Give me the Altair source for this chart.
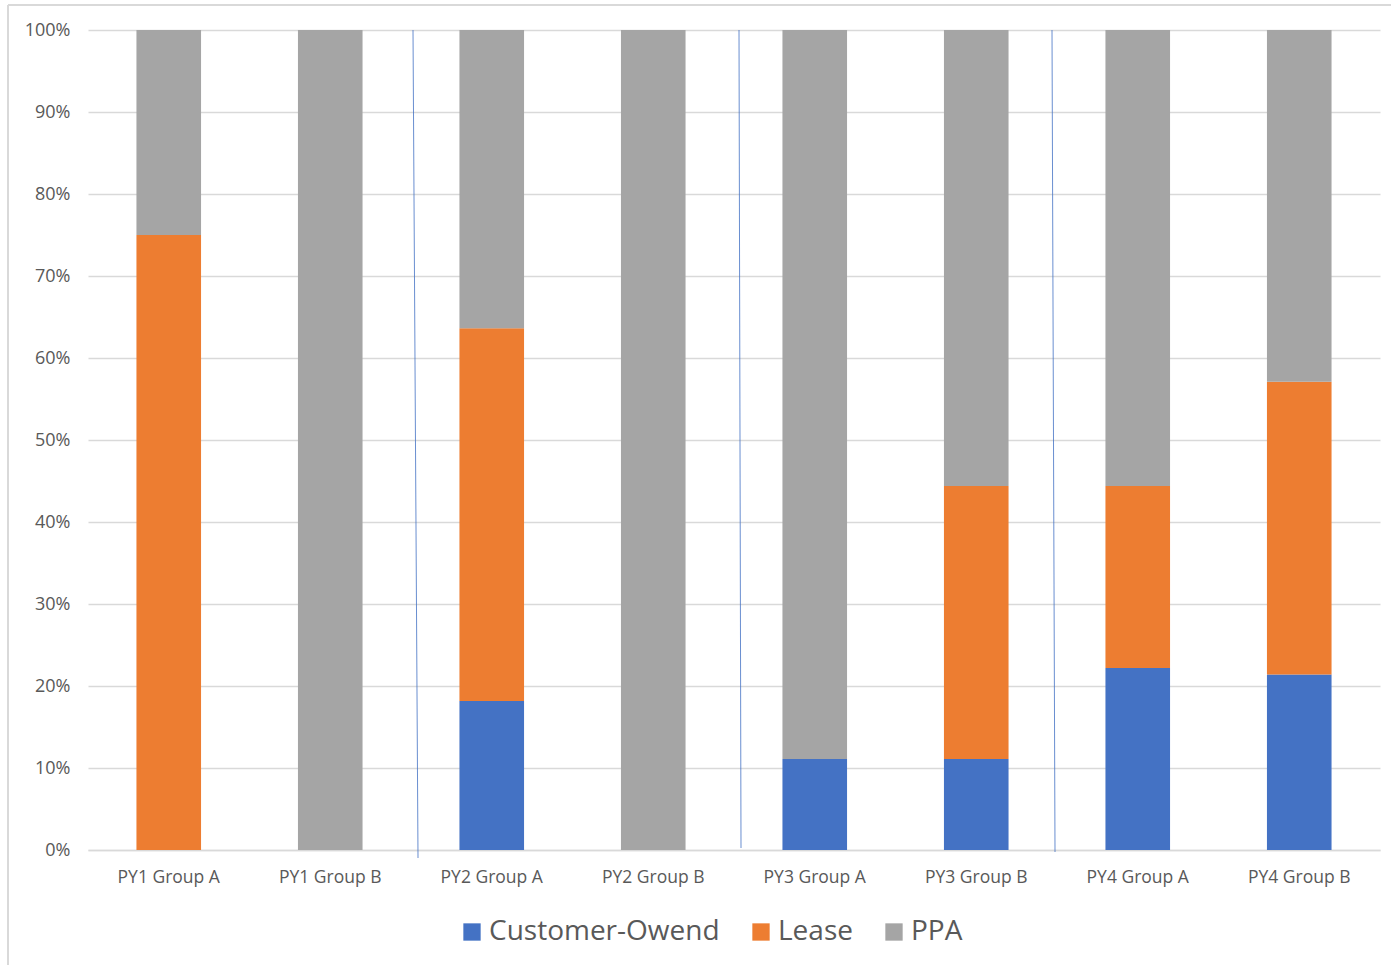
import altair as alt
import pandas as pd

categories = ["PY1 Group A", "PY1 Group B", "PY2 Group A", "PY2 Group B",
              "PY3 Group A", "PY3 Group B", "PY4 Group A", "PY4 Group B"]
series = ["Customer-Owend", "Lease", "PPA"]
customer_owned = [0.0, 0.0, 18.2, 0.0, 11.1, 11.1, 22.2, 21.4]
lease = [75.0, 0.0, 45.5, 0.0, 0.0, 33.3, 22.2, 35.7]
ppa = [25.0, 100.0, 36.4, 100.0, 88.9, 55.6, 55.6, 42.9]
colors = ["#4472C4", "#ED7D31", "#A5A5A5"]

rows = []
for i, c in enumerate(categories):
    for j, (s, vals) in enumerate(zip(series, [customer_owned, lease, ppa])):
        rows.append({"category": c, "series": s, "value": vals[i], "order": j})
df = pd.DataFrame(rows)

FONT = "Open Sans"
W, H = 1292, 820

bars = alt.Chart(df).mark_bar().encode(
    x=alt.X("category:N", sort=categories,
            scale=alt.Scale(paddingInner=0.6, paddingOuter=0.3),
            axis=alt.Axis(title=None, labelAngle=0, ticks=False, domain=True,
                          domainColor="#d9d9d9", domainWidth=1.5,
                          labelFont=FONT, labelFontSize=17.5, labelColor="#595959",
                          labelPadding=18)),
    y=alt.Y("value:Q", stack="normalize",
            scale=alt.Scale(domain=[0, 1]),
            axis=alt.Axis(title=None, format=".0%", values=[i / 10 for i in range(11)],
                          ticks=False, domain=False, gridColor="#d9d9d9", gridWidth=1.5,
                          labelFont=FONT, labelFontSize=18, labelColor="#595959",
                          labelPadding=18)),
    color=alt.Color("series:N", sort=series,
                    scale=alt.Scale(domain=series, range=colors),
                    legend=alt.Legend(title=None, orient="none", direction="horizontal",
                                      legendX=370, legendY=888,
                                      symbolType="square", symbolSize=300,
                                      symbolStrokeWidth=0, labelLimit=0,
                                      labelFont=FONT, labelFontSize=28,
                                      labelColor="#595959", columnPadding=27,
                                      labelOffset=3)),
    order=alt.Order("order:Q"),
)

sep_df = pd.DataFrame({"k": [0]})
seps = [
    alt.Chart(sep_df).mark_rule(color="#4472C4", strokeWidth=1, opacity=0.8).encode(
        x=alt.value(x1), x2=alt.value(x2), y=alt.value(0), y2=alt.value(y2))
    for x1, x2, y2 in [(325, 330, 828), (651, 653, 818), (964, 967, 822)]
]

frame_top = alt.Chart(sep_df).mark_rule(color="#d9d9d9", strokeWidth=2).encode(
    x=alt.value(-80), x2=alt.value(1310), y=alt.value(-25), y2=alt.value(-25))
frame_left = alt.Chart(sep_df).mark_rule(color="#d9d9d9", strokeWidth=2).encode(
    x=alt.value(-80), x2=alt.value(-80), y=alt.value(-25), y2=alt.value(940))

chart = alt.layer(bars, *seps, frame_top, frame_left).properties(
    width=W, height=H,
    autosize=alt.AutoSizeParams(type="none"),
    padding={"left": 88, "top": 30, "right": 11, "bottom": 115},
).configure_view(stroke=None)

chart.save("out.html", embed_options={"renderer": "svg", "actions": False})
